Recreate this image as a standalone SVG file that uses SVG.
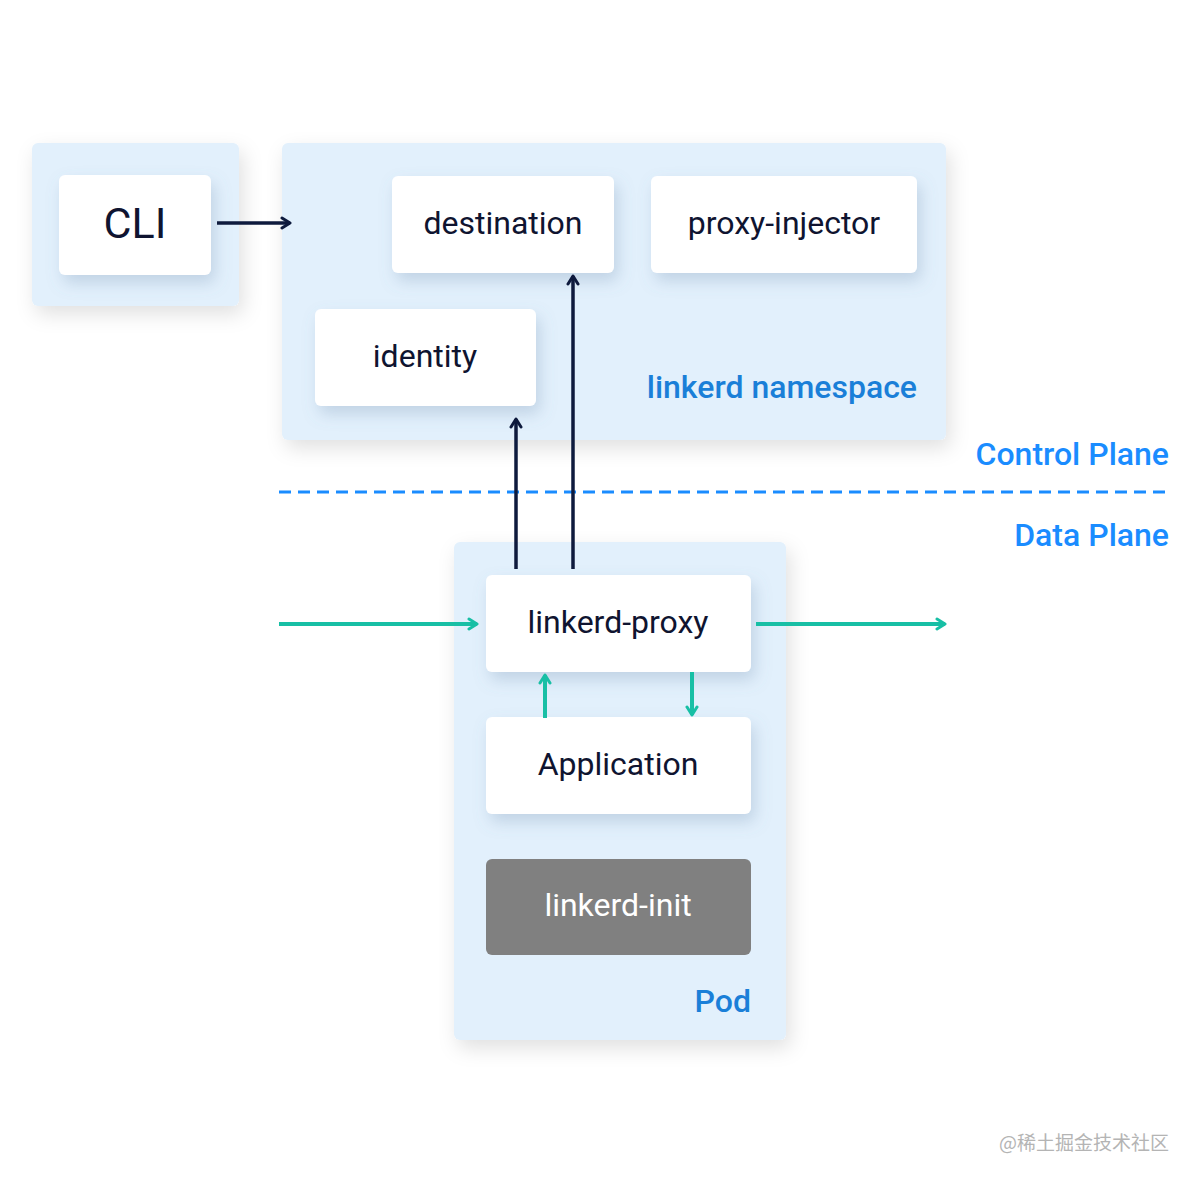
<svg xmlns="http://www.w3.org/2000/svg" width="1200" height="1184" viewBox="0 0 1200 1184">
<style>
.group{fill:#e2f0fc;}
.node{fill:#ffffff;}
.init{fill:#808080;}
.t{font-family:Roboto,"Liberation Sans",sans-serif;font-size:32px;fill:#0f1430;text-anchor:middle;}
.tw{fill:#ffffff;}
.lbl{font-family:Roboto,"Liberation Sans",sans-serif;font-size:32px;font-weight:500;fill:#1a7fd8;text-anchor:end;}
.plane{fill:#1a8cff;}
.dark{stroke:#0e1a3d;stroke-width:3.5;fill:none;}
.teal{stroke:#18bfa5;stroke-width:4;fill:none;}
</style>
<defs>
<filter id="sh" x="-20%" y="-20%" width="150%" height="150%">
<feDropShadow dx="4" dy="8" stdDeviation="8" flood-color="#6a86a8" flood-opacity="0.28"/>
</filter>
<filter id="shg" x="-10%" y="-10%" width="130%" height="130%">
<feDropShadow dx="4" dy="8" stdDeviation="10" flood-color="#000000" flood-opacity="0.12"/>
</filter>
<marker id="ad" viewBox="0 0 14 14" refX="12" refY="7" markerWidth="14" markerHeight="14" markerUnits="userSpaceOnUse" orient="auto">
<path d="M4,2 L12,7 L4,12" fill="none" stroke="#0e1a3d" stroke-width="3" stroke-linecap="round" stroke-linejoin="round"/>
</marker>
<marker id="at" viewBox="0 0 14 14" refX="12" refY="7" markerWidth="14" markerHeight="14" markerUnits="userSpaceOnUse" orient="auto">
<path d="M4,2 L12,7 L4,12" fill="none" stroke="#18bfa5" stroke-width="3" stroke-linecap="round" stroke-linejoin="round"/>
</marker>
</defs>
<rect width="1200" height="1184" fill="#ffffff"/>

<g id="cli-group"><rect class="group" x="32" y="143" width="207" height="163" rx="6" filter="url(#shg)"/></g>
<g id="linkerd-namespace"><rect class="group" x="282" y="143" width="664" height="297" rx="6" filter="url(#shg)"/>
<text class="lbl" x="917" y="398">linkerd namespace</text></g>
<g id="pod"><rect class="group" x="454" y="542" width="332" height="498" rx="6" filter="url(#shg)"/>
<text class="lbl" x="751" y="1012">Pod</text></g>

<g id="plane-divider">
<line x1="279" y1="492" x2="1170" y2="492" stroke="#1a8cff" stroke-width="3" stroke-dasharray="12 7"/>
<text class="lbl plane" x="1169" y="465">Control Plane</text>
<text class="lbl plane" x="1169" y="546">Data Plane</text>
</g>

<g id="cli"><rect class="node" x="59" y="175" width="152" height="100" rx="6" filter="url(#sh)"/>
<text class="t" x="135" y="238" style="font-size:43px">CLI</text></g>
<g id="destination"><rect class="node" x="392" y="176" width="222" height="97" rx="6" filter="url(#sh)"/>
<text class="t" x="503" y="234">destination</text></g>
<g id="proxy-injector"><rect class="node" x="651" y="176" width="266" height="97" rx="6" filter="url(#sh)"/>
<text class="t" x="784" y="234">proxy-injector</text></g>
<g id="identity"><rect class="node" x="315" y="309" width="221" height="97" rx="6" filter="url(#sh)"/>
<text class="t" x="425" y="367">identity</text></g>
<g id="linkerd-proxy"><rect class="node" x="486" y="575" width="265" height="97" rx="6" filter="url(#sh)"/>
<text class="t" x="618" y="633">linkerd-proxy</text></g>
<g id="application"><rect class="node" x="486" y="717" width="265" height="97" rx="6" filter="url(#sh)"/>
<text class="t" x="618" y="775">Application</text></g>
<g id="linkerd-init"><rect class="init" x="486" y="859" width="265" height="96" rx="6"/>
<text class="t tw" x="618" y="916">linkerd-init</text></g>

<g id="connectors">
<line class="dark" x1="217" y1="223" x2="290" y2="223" marker-end="url(#ad)"/>
<line class="dark" x1="516" y1="569" x2="516" y2="419" marker-end="url(#ad)"/>
<line class="dark" x1="573" y1="569" x2="573" y2="276" marker-end="url(#ad)"/>
<line class="teal" x1="279" y1="624" x2="477" y2="624" marker-end="url(#at)"/>
<line class="teal" x1="756" y1="624" x2="945" y2="624" marker-end="url(#at)"/>
<line class="teal" x1="545" y1="718" x2="545" y2="675" marker-end="url(#at)"/>
<line class="teal" x1="692" y1="672" x2="692" y2="715" marker-end="url(#at)"/>
</g>

<text x="1169" y="1150" text-anchor="end" font-family="'Noto Sans CJK SC',sans-serif" font-size="19" fill="#b4b4b4">@稀土掘金技术社区</text>
</svg>
